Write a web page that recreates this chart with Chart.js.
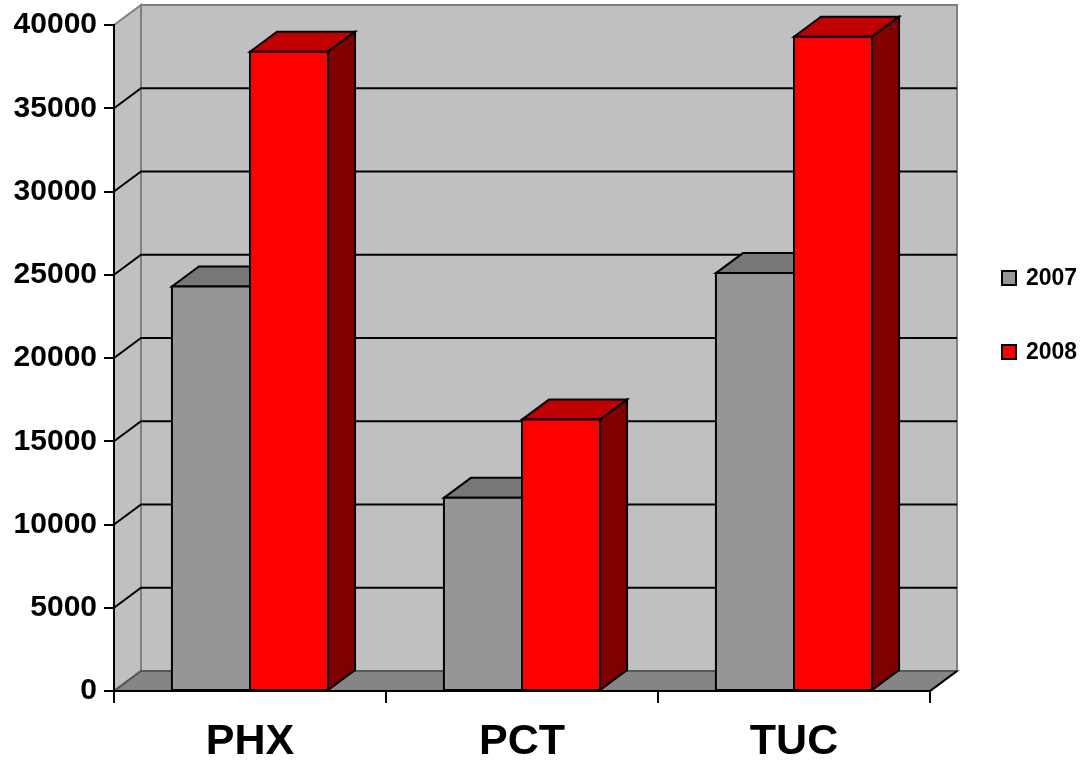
<!DOCTYPE html>
<html>
<head>
<meta charset="utf-8">
<script src="https://cdn.jsdelivr.net/npm/chart.js@4.4.1/dist/chart.umd.min.js"></script>
<style>
html, body { margin: 0; padding: 0; background: #fff; }
#wrap { width: 1084px; height: 761px; }
</style>
</head>
<body>
<div id="wrap"><canvas id="chartCities"></canvas></div>
<script>
var categories = ["PHX", "PCT", "TUC"];
var seriesNames = ["2007", "2008"];
var values2007 = [24300, 11600, 25100];
var values2008 = [38400, 16300, 39300];
var yMax = 40000;
var yStep = 5000;

// face colours per series: front, top, right side
var faceColors = [
    { front: "#969696", top: "#777777", side: "#5f5f5f" },
    { front: "#ff0000", top: "#c00000", side: "#800000" }
];
var depthX = 27, depthY = -20;
var fontFamily = "'Liberation Sans', Arial, sans-serif";

function poly(ctx, pts, fill, stroke, lw) {
    ctx.beginPath();
    ctx.moveTo(pts[0][0], pts[0][1]);
    for (var i = 1; i < pts.length; i++) {
        ctx.lineTo(pts[i][0], pts[i][1]);
    }
    ctx.closePath();
    if (fill) {
        ctx.fillStyle = fill;
        ctx.fill();
    }
    if (stroke) {
        ctx.strokeStyle = stroke;
        ctx.lineWidth = lw || 2;
        ctx.stroke();
    }
}

var box3d = {
    id: "box3d",
    beforeDraw: function (chart) {
        var ctx = chart.ctx, a = chart.chartArea, ys = chart.scales.y;
        var top = ys.getPixelForValue(yMax), bottom = ys.getPixelForValue(0);
        ctx.save();
        ctx.lineJoin = "miter";
        // back wall
        poly(ctx, [[a.left + depthX, top + depthY], [a.right + depthX, top + depthY],
            [a.right + depthX, bottom + depthY], [a.left + depthX, bottom + depthY]], "#c0c0c0", "#808080", 2);
        // side wall
        poly(ctx, [[a.left, bottom], [a.left + depthX, bottom + depthY],
            [a.left + depthX, top + depthY], [a.left, top]], "#c0c0c0", "#808080", 2);
        // floor
        poly(ctx, [[a.left, bottom], [a.right, bottom], [a.right + depthX, bottom + depthY],
            [a.left + depthX, bottom + depthY]], "#858585", "#555555", 2);
        ctx.beginPath();
        ctx.moveTo(a.right, bottom);
        ctx.lineTo(a.right + depthX, bottom + depthY);
        ctx.strokeStyle = "#000";
        ctx.stroke();
        // gridlines on side and back wall
        ctx.strokeStyle = "#000";
        ctx.lineWidth = 2;
        for (var v = yStep; v < yMax; v += yStep) {
            var py = ys.getPixelForValue(v);
            ctx.beginPath();
            ctx.moveTo(a.left, py);
            ctx.lineTo(a.left + depthX, py + depthY);
            ctx.lineTo(a.right + depthX, py + depthY);
            ctx.stroke();
        }
        ctx.restore();
    },
    beforeDatasetsDraw: function (chart) {
        var ctx = chart.ctx;
        ctx.save();
        ctx.lineJoin = "miter";
        chart.data.datasets.forEach(function (ds, di) {
            var meta = chart.getDatasetMeta(di);
            var c = faceColors[di];
            meta.data.forEach(function (bar) {
                var p = bar.getProps(["x", "y", "base", "width"], true);
                var l = p.x - p.width / 2, r = p.x + p.width / 2, t = p.y, b = p.base;
                poly(ctx, [[l, t], [r, t], [r + depthX, t + depthY], [l + depthX, t + depthY]], c.top, "#000", 2);
                poly(ctx, [[r, t], [r + depthX, t + depthY], [r + depthX, b + depthY], [r, b]], c.side, "#000", 2);
                poly(ctx, [[l, t], [r, t], [r, b], [l, b]], c.front, "#000", 2);
            });
        });
        ctx.restore();
        return false;
    },
    afterDraw: function (chart) {
        var ctx = chart.ctx, a = chart.chartArea;
        ctx.save();
        ctx.font = "bold 23px " + fontFamily;
        ctx.textBaseline = "middle";
        ctx.textAlign = "left";
        chart.data.datasets.forEach(function (ds, di) {
            var cx = a.right + 72, cy = 278 + di * 74;
            ctx.fillStyle = faceColors[di].front;
            ctx.fillRect(cx, cy - 7, 14, 14);
            ctx.strokeStyle = "#000";
            ctx.lineWidth = 2;
            ctx.strokeRect(cx, cy - 7, 14, 14);
            ctx.fillStyle = "#000";
            ctx.fillText(ds.label, cx + 24, cy + 1);
        });
        ctx.restore();
    }
};

new Chart("chartCities", {
    type: "bar",
    data: {
        labels: categories,
        datasets: [
            { label: seriesNames[0], data: values2007, backgroundColor: faceColors[0].front, categoryPercentage: 0.574, barPercentage: 1.0 },
            { label: seriesNames[1], data: values2008, backgroundColor: faceColors[1].front, categoryPercentage: 0.574, barPercentage: 1.0 }
        ]
    },
    options: {
        responsive: true,
        maintainAspectRatio: false,
        animation: false,
        layout: { padding: { top: 25, right: 154, left: 0, bottom: 0 } },
        plugins: {
            legend: { display: false },
            tooltip: { enabled: false }
        },
        scales: {
            x: {
                grid: { drawOnChartArea: false, offset: true, tickLength: 12, color: "#000", lineWidth: 2 },
                border: { color: "#000", width: 2 },
                ticks: { color: "#000", padding: 13, font: { family: fontFamily, size: 43, weight: "bold" } },
                afterFit: function (s) { s.height = 70; }
            },
            y: {
                min: 0,
                max: yMax,
                grid: { drawOnChartArea: false, tickLength: 10, color: "#000", lineWidth: 2 },
                border: { color: "#000", width: 2 },
                ticks: {
                    stepSize: yStep,
                    color: "#000",
                    padding: 7,
                    font: { family: fontFamily, size: 30, weight: "bold" },
                    callback: function (value) { return String(value); }
                },
                afterFit: function (s) { s.width = 114; }
            }
        }
    },
    plugins: [box3d]
});
</script>
</body>
</html>
